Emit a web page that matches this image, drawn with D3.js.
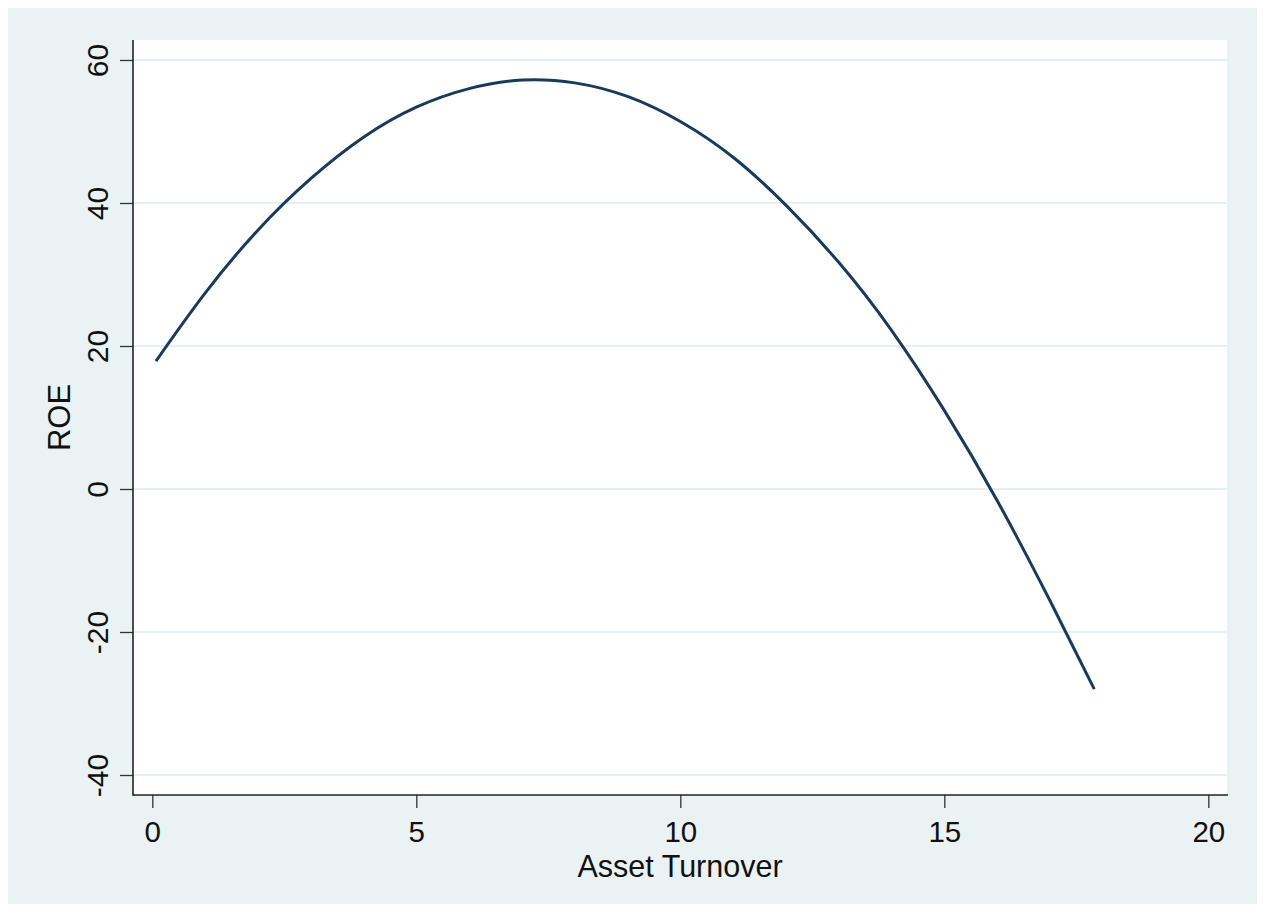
<!DOCTYPE html>
<html>
<head>
<meta charset="utf-8">
<script src="https://cdn.jsdelivr.net/npm/d3@7/dist/d3.min.js"></script>
<style>
  html, body { margin: 0; padding: 0; background: #ffffff; }
  svg { display: block; }
  text { font-family: "Liberation Sans", Arial, Helvetica, sans-serif; fill: #111; }
</style>
</head>
<body>
<svg id="chart" width="1264" height="913"></svg>
<script>
// Fitted ROE as a function of asset turnover
const turnover = [0.07, 1, 2, 3, 4, 5, 6, 7, 8, 9, 10, 11, 12, 13, 14, 15, 16, 17, 17.84];
const roe      = [17.9, 27.4, 36.2, 43.4, 49.2, 53.4, 56.0, 57.2, 56.8, 54.9, 51.4, 46.4, 39.7, 31.7, 22.2, 11.0, -1.6, -15.6, -28.0];

const xTicks = [0, 5, 10, 15, 20];
const yTicks = [-40, -20, 0, 20, 40, 60];
const xTitle = "Asset Turnover";
const yTitle = "ROE";

const svg = d3.select("#chart");

// Plot region box
const plot = { left: 133, right: 1227, top: 40, bottom: 795 };

const x = d3.scaleLinear().domain([-0.3655, 20.354]).range([plot.left, plot.right]);
const y = d3.scaleLinear().domain([-42.797, 62.797]).range([plot.bottom, plot.top]);

// Plain hyphen for negatives
const fmt = d => String(d);

// Graph background
svg.append("rect")
  .attr("x", 8).attr("y", 8).attr("width", 1249).attr("height", 896)
  .attr("fill", "#eaf2f3");

// Plot area
svg.append("rect")
  .attr("x", plot.left).attr("y", plot.top)
  .attr("width", plot.right - plot.left).attr("height", plot.bottom - plot.top)
  .attr("fill", "#ffffff");

// Horizontal grid
svg.append("g")
  .selectAll("line")
  .data(yTicks)
  .join("line")
  .attr("x1", plot.left).attr("x2", plot.right)
  .attr("y1", d => y(d)).attr("y2", d => y(d))
  .attr("stroke", "#e6eff1")
  .attr("stroke-width", 2.2);

// Axes
const yAxis = d3.axisLeft(y).tickValues(yTicks).tickSize(13).tickPadding(11).tickFormat(fmt);
const yG = svg.append("g").attr("transform", `translate(${plot.left},0)`).call(yAxis);
yG.select(".domain").remove();
yG.selectAll(".tick line").attr("stroke", "#333").attr("stroke-width", 1.3);
yG.selectAll(".tick text")
  .attr("font-size", 30)
  .attr("x", 0).attr("dy", 0)
  .attr("text-anchor", "middle")
  .attr("transform", "translate(-25,0) rotate(-90)")
  .attr("fill", "#111");

const xAxis = d3.axisBottom(x).tickValues(xTicks).tickSize(13).tickPadding(10).tickFormat(fmt);
const xG = svg.append("g").attr("transform", `translate(0,${plot.bottom})`).call(xAxis);
xG.select(".domain").remove();
xG.selectAll(".tick line").attr("stroke", "#333").attr("stroke-width", 1.3);
xG.selectAll(".tick text")
  .attr("font-size", 29.5)
  .attr("dy", 0)
  .attr("y", 47)
  .attr("fill", "#111");

// Axis lines
svg.append("line")
  .attr("x1", plot.left).attr("x2", plot.left)
  .attr("y1", plot.top).attr("y2", plot.bottom + 0.7)
  .attr("stroke", "#222").attr("stroke-width", 1.6);
svg.append("line")
  .attr("x1", plot.left).attr("x2", plot.right + 1)
  .attr("y1", plot.bottom).attr("y2", plot.bottom)
  .attr("stroke", "#222").attr("stroke-width", 1.6);

// Curve
const pts = turnover.map((t, i) => [t, roe[i]]);
const line = d3.line()
  .x(d => x(d[0]))
  .y(d => y(d[1]))
  .curve(d3.curveNatural);

svg.append("path")
  .datum(pts)
  .attr("d", line)
  .attr("fill", "none")
  .attr("stroke", "#1a3a5c")
  .attr("stroke-width", 3)
  .attr("stroke-linejoin", "round");

// Axis titles
svg.append("text")
  .attr("x", (plot.left + plot.right) / 2)
  .attr("y", 877)
  .attr("text-anchor", "middle")
  .attr("font-size", 30.5)
  .text(xTitle);

svg.append("text")
  .attr("transform", `translate(70,${(plot.top + plot.bottom) / 2}) rotate(-90)`)
  .attr("text-anchor", "middle")
  .attr("font-size", 31)
  .text(yTitle);
</script>
</body>
</html>
